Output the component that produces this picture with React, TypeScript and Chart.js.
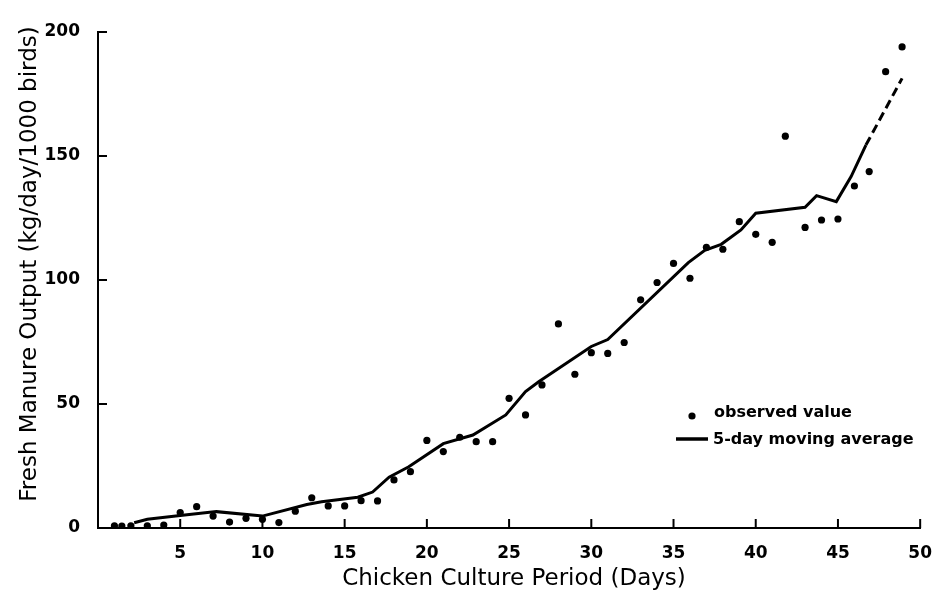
import React, { useEffect, useRef } from "react";
import { Chart, registerables } from "chart.js";

Chart.register(...registerables);

// Observed daily values (day, kg/day/1000 birds)
const obsDays = [1, 1.45, 2, 3, 4, 5, 6, 7, 8, 9, 10, 11, 12, 13, 14, 15, 16, 17, 18, 19, 20, 21, 22, 23, 24, 25, 26, 27, 28, 29, 30, 31, 32, 33, 34, 35, 36, 37, 38, 39, 40, 41, 41.8, 43, 44, 45, 46, 46.9, 47.9, 48.9];
const obsValues = [0.9, 0.8, 0.9, 0.9, 1.2, 6.2, 8.6, 4.8, 2.4, 3.9, 3.5, 2.2, 6.8, 12.2, 8.9, 8.9, 11, 10.9, 19.4, 22.7, 35.3, 30.8, 36.6, 34.8, 34.8, 52.3, 45.6, 57.7, 82.3, 62, 70.7, 70.4, 74.8, 92, 99, 106.7, 100.7, 113.2, 112.4, 123.5, 118.4, 115.2, 158, 121.2, 124.2, 124.6, 137.9, 143.7, 184, 194];

// 5-day moving average line vertices
const maDays = [2.2, 3, 5, 7.2, 10, 12.7, 13.6, 15.8, 16.7, 17.7, 18.9, 21, 22.8, 24.8, 26, 26.8, 30, 31, 35.9, 36.9, 37.9, 39.1, 40, 43, 43.7, 44.9, 45.8, 46.7, 48.9];
const maValues = [2.1, 3.5, 5, 6.6, 4.8, 9.5, 10.6, 12.4, 14.5, 20.5, 24.7, 34, 37.5, 45.6, 55, 59, 73.2, 76, 107, 112, 114.4, 120.2, 126.9, 129.3, 134, 131.6, 141.7, 154.4, 181.3];
const maDashFromIndex = 27; // projected (dashed) part begins here

const xTicks = [5, 10, 15, 20, 25, 30, 35, 40, 45, 50];
const yTicks = [0, 50, 100, 150, 200];

const xTitle = "Chicken Culture Period (Days)";
const yTitle = "Fresh Manure Output (kg/day/1000 birds)";
const legendLabels = ["observed value", "5-day moving average"];

const FONT = "'DejaVu Sans', sans-serif";

const decorations = {
  id: "decorations",
  afterDraw(chart: any) {
    const { ctx, scales } = chart;
    const x = scales.x;
    const y = scales.y;
    ctx.save();
    ctx.strokeStyle = "#000";
    ctx.fillStyle = "#000";
    ctx.lineWidth = 2;
    // inward tick marks
    xTicks.forEach((t) => {
      const px = x.getPixelForValue(t);
      ctx.beginPath();
      ctx.moveTo(px, y.bottom);
      ctx.lineTo(px, y.bottom - 9);
      ctx.stroke();
    });
    yTicks.forEach((t) => {
      if (t === 0) return;
      const py = y.getPixelForValue(t);
      ctx.beginPath();
      ctx.moveTo(x.left, py);
      ctx.lineTo(x.left + 9, py);
      ctx.stroke();
    });
    // axis titles
    ctx.font = `23px ${FONT}`;
    ctx.textAlign = "center";
    ctx.textBaseline = "middle";
    ctx.fillText(xTitle, 514, 579);
    ctx.save();
    ctx.translate(30, 264);
    ctx.rotate(-Math.PI / 2);
    ctx.fillText(yTitle, 0, 0);
    ctx.restore();
    // legend
    ctx.beginPath();
    ctx.arc(692, 416, 3.6, 0, Math.PI * 2);
    ctx.fill();
    ctx.lineWidth = 3.5;
    ctx.beginPath();
    ctx.moveTo(676, 439);
    ctx.lineTo(708, 439);
    ctx.stroke();
    ctx.font = `bold 16px ${FONT}`;
    ctx.textBaseline = "middle";
    ctx.textAlign = "left";
    ctx.fillText(legendLabels[0], 714, 413);
    ctx.fillText(legendLabels[1], 713, 440);
    ctx.restore();
  },
};

export default function App() {
  const ref = useRef<HTMLCanvasElement>(null);
  useEffect(() => {
    if (!ref.current) return;
    const chart = new Chart(ref.current, {
      type: "scatter",
      data: {
        datasets: [
          {
            type: "line",
            label: legendLabels[1],
            data: maDays.map((d, i) => ({ x: d, y: maValues[i] })),
            borderColor: "#000",
            borderWidth: 3,
            pointRadius: 0,
            tension: 0,
            fill: false,
            segment: {
              borderDash: (c: any) => (c.p0DataIndex >= maDashFromIndex ? [9, 5] : undefined),
            },
          } as any,
          {
            type: "scatter",
            label: legendLabels[0],
            data: obsDays.map((d, i) => ({ x: d, y: obsValues[i] })),
            backgroundColor: "#000",
            borderColor: "#000",
            pointRadius: 3.6,
            borderWidth: 0,
          },
        ],
      },
      options: {
        animation: false,
        responsive: false,
        maintainAspectRatio: false,
        layout: { padding: { top: 32, right: 17, left: 0, bottom: 0 } },
        plugins: { legend: { display: false }, tooltip: { enabled: false } },
        scales: {
          x: {
            type: "linear",
            min: 0,
            max: 50,
            afterBuildTicks: (s: any) => {
              s.ticks = xTicks.map((v) => ({ value: v }));
            },
            afterFit: (s: any) => {
              s.height = 67;
            },
            grid: { display: false },
            border: { display: true, color: "#000", width: 2 },
            ticks: {
              color: "#000",
              padding: 7,
              maxRotation: 0,
              font: { family: FONT, size: 17, weight: "bold" },
            },
          },
          y: {
            type: "linear",
            min: 0,
            max: 200,
            afterBuildTicks: (s: any) => {
              s.ticks = yTicks.map((v) => ({ value: v }));
            },
            afterFit: (s: any) => {
              s.width = 98;
            },
            grid: { display: false },
            border: { display: true, color: "#000", width: 2 },
            ticks: {
              color: "#000",
              padding: 10,
              font: { family: FONT, size: 17, weight: "bold" },
            },
          },
        },
      },
      plugins: [decorations],
    } as any);
    return () => chart.destroy();
  }, []);
  return (
    <div style={{ position: "fixed", left: 0, top: 0, width: 939, height: 595, background: "#fff" }}>
      <canvas ref={ref} width={939} height={595} style={{ width: 939, height: 595 }} />
    </div>
  );
}
